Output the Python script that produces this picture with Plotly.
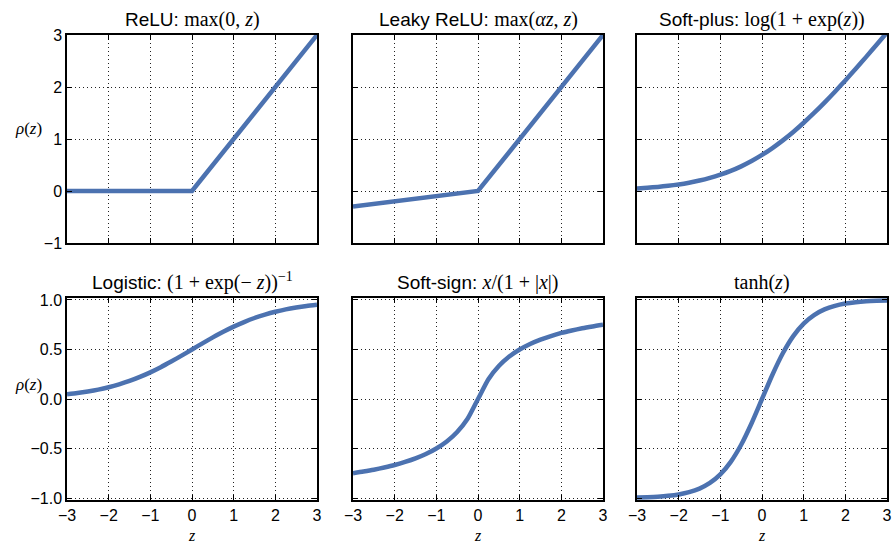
import plotly.graph_objects as go

# ---------------- data ----------------
relu_x = [-3, 0, 3]
relu_y = [0, 0, 3]

leaky_x = [-3, 0, 3]
leaky_y = [-0.3, 0, 3]

z = [-3, -2.75, -2.5, -2.25, -2, -1.75, -1.5, -1.25, -1, -0.75, -0.5, -0.25, 0,
     0.25, 0.5, 0.75, 1, 1.25, 1.5, 1.75, 2, 2.25, 2.5, 2.75, 3]

softplus_y = [0.049, 0.062, 0.079, 0.100, 0.127, 0.160, 0.201, 0.252, 0.313, 0.386,
              0.474, 0.576, 0.693, 0.826, 0.974, 1.136, 1.313, 1.502, 1.701, 1.910,
              2.127, 2.350, 2.579, 2.812, 3.049]

logistic_y = [0.047, 0.060, 0.076, 0.095, 0.119, 0.148, 0.182, 0.223, 0.269, 0.321,
              0.378, 0.438, 0.500, 0.562, 0.622, 0.679, 0.731, 0.777, 0.818, 0.852,
              0.881, 0.905, 0.924, 0.940, 0.953]

softsign_y = [-0.750, -0.733, -0.714, -0.692, -0.667, -0.636, -0.600, -0.556, -0.500,
              -0.429, -0.333, -0.200, 0.000, 0.200, 0.333, 0.429, 0.500, 0.556, 0.600,
              0.636, 0.667, 0.692, 0.714, 0.733, 0.750]

tanh_y = [-0.995, -0.992, -0.987, -0.978, -0.964, -0.941, -0.905, -0.848, -0.762,
          -0.635, -0.462, -0.245, 0.000, 0.245, 0.462, 0.635, 0.762, 0.848, 0.905,
          0.941, 0.964, 0.978, 0.987, 0.992, 0.995]

x_ticks = [-3, -2, -1, 0, 1, 2, 3]
x_tick_labels = ["\u22123", "\u22122", "\u22121", "0", "1", "2", "3"]
top_y_ticks = [-1, 0, 1, 2, 3]
top_y_labels = ["\u22121", "0", "1", "2", "3"]
bot_y_ticks = [-1.0, -0.5, 0.0, 0.5, 1.0]
bot_y_labels = ["\u22121.0", "\u22120.5", "0.0", "0.5", "1.0"]

SERIF = "Liberation Serif, Times New Roman, serif"
def m(s):
    return f'<span style="font-family:{SERIF};font-size:20px">{s}</span>'

titles = [
    "ReLU: " + m("max(0, <i>z</i>)"),
    "Leaky ReLU: " + m("max(<i>\u03b1z</i>, <i>z</i>)"),
    "Soft-plus: " + m("log(1 + exp(<i>z</i>))"),
    "Logistic: " + m("(1 + exp(\u2212 <i>z</i>))<sup>\u22121</sup>"),
    "Soft-sign: " + m("<i>x</i>/(1 + |<i>x</i>|)"),
    m("tanh(<i>z</i>)"),
]

series = [
    (relu_x, relu_y, "linear"),
    (leaky_x, leaky_y, "linear"),
    (z, softplus_y, "spline"),
    (z, logistic_y, "spline"),
    (z, softsign_y, "spline"),
    (z, tanh_y, "spline"),
]

# ---------------- layout geometry ----------------
W, H = 894, 545
xdoms = [(67, 317), (353, 603), (637, 887)]
ydoms = [(35, 243), (298, 500)]

LINE = "#4C72B0"
fig = go.Figure()
layout = dict(
    width=W, height=H,
    margin=dict(l=0, r=0, t=0, b=0, autoexpand=False),
    paper_bgcolor="white", plot_bgcolor="white",
    showlegend=False,
    font=dict(family="Liberation Sans, Arial, sans-serif", size=16, color="black"),
)
annotations = []

for i in range(6):
    r, c = divmod(i, 3)
    k = i + 1
    xs, ys, shape = series[i]
    fig.add_trace(go.Scatter(x=xs, y=ys, mode="lines",
                             line=dict(color=LINE, width=4.5, shape=shape, smoothing=0.6),
                             xaxis=f"x{k}", yaxis=f"y{k}", hoverinfo="skip"))
    x0, x1 = xdoms[c]
    y0, y1 = ydoms[r]
    axcommon = dict(showline=True, linecolor="black", linewidth=1.5, mirror="ticks",
                    ticks="inside", ticklen=5, tickwidth=1, tickcolor="black",
                    showgrid=True, gridcolor="#222222", gridwidth=1, griddash="1px,3px",
                    zeroline=False, tickfont=dict(size=16), automargin=False)
    layout[f"xaxis{k}"] = dict(axcommon, domain=[x0 / W, x1 / W], anchor=f"y{k}",
                               range=[-3, 3], tickvals=x_ticks, ticktext=x_tick_labels,
                               showticklabels=(r == 1))
    if r == 0:
        layout[f"yaxis{k}"] = dict(axcommon, domain=[1 - y1 / H, 1 - y0 / H], anchor=f"x{k}",
                                   range=[-1, 3], tickvals=top_y_ticks, ticktext=top_y_labels,
                                   showticklabels=(c == 0))
    else:
        layout[f"yaxis{k}"] = dict(axcommon, domain=[1 - y1 / H, 1 - y0 / H], anchor=f"x{k}",
                                   range=[-1.02, 1.02], tickvals=bot_y_ticks, ticktext=bot_y_labels,
                                   showticklabels=(c == 0))
    annotations.append(dict(text=titles[i], x=(x0 + x1) / 2 / W, y=1 - y0 / H,
                            xref="paper", yref="paper", xanchor="center", yanchor="bottom",
                            yshift=2, showarrow=False, font=dict(size=19)))
    if r == 1:
        annotations.append(dict(text="<i>z</i>", x=(x0 + x1) / 2 / W, y=1 - 535 / H,
                                xref="paper", yref="paper", xanchor="center", yanchor="middle",
                                showarrow=False, font=dict(size=16, family=SERIF)))

for yy in (128, 384):
    annotations.append(dict(text="<i>\u03c1</i>(<i>z</i>)", x=29 / W, y=1 - yy / H,
                            xref="paper", yref="paper", xanchor="center", yanchor="middle",
                            showarrow=False, font=dict(size=17, family=SERIF)))

layout["annotations"] = annotations
fig.update_layout(**layout)
fig.write_html("out.html", config={"displayModeBar": False},
               post_script="document.body.style.margin='0px';document.body.style.overflow='hidden';")
